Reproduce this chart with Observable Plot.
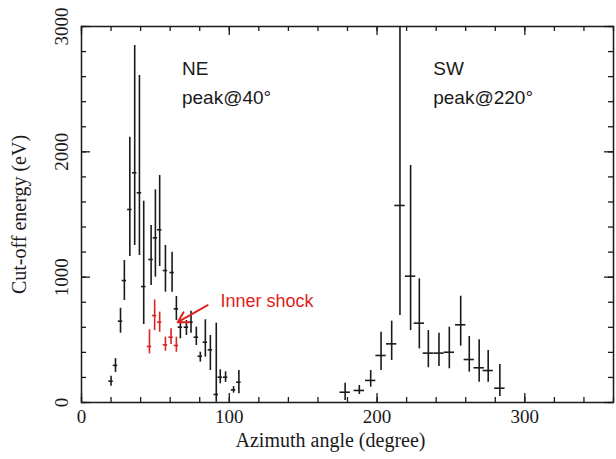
<!DOCTYPE html>
<html>
<head>
<meta charset="utf-8">
<script src="https://cdn.jsdelivr.net/npm/d3@7"></script>
<script src="https://cdn.jsdelivr.net/npm/@observablehq/plot@0.6"></script>
<style>
  html, body { margin: 0; padding: 0; background: #fff; }
  #chart svg { display: block; }
</style>
</head>
<body>
<div id="chart"></div>
<script>
// ---- data ----
const neAngle = [20, 23, 26.4, 29, 32.7, 36, 39.2, 42.1, 47.1, 50, 52.9, 56.8, 61.3, 64.2, 66.9, 71, 74.1, 77.7, 80.4, 83.8, 87.2, 91.2, 93.9, 97.5, 102.9, 106.5];
const neValue = [170, 296, 649, 973, 1540, 1833, 1673, 925, 1141, 1314, 1378, 1053, 1037, 747, 601, 601, 641, 521, 369, 481, 420, 64, 202, 202, 101, 162];
const neLow   = [130, 240, 553, 814, 1165, 1253, 1173, 622, 933, 1000, 1085, 880, 880, 654, 508, 535, 553, 455, 322, 362, 255, 2, 149, 160, 75, 69];
const neHigh  = [210, 350, 752, 1133, 2117, 2848, 2609, 1606, 1412, 1697, 1811, 1253, 1199, 846, 654, 654, 729, 601, 401, 660, 535, 633, 261, 245, 127, 255];

const innerAngle = [46, 49.5, 52.9, 56.8, 60.6, 64.2];
const innerValue = [447, 694, 641, 460, 521, 455];
const innerLow   = [388, 574, 561, 409, 463, 401];
const innerHigh  = [580, 819, 721, 521, 588, 521];

const swAngle = [178.4, 188, 195.7, 202.7, 209.9, 215.5, 222.7, 228.6, 234.7, 241.9, 248.9, 256.6, 262.4, 269.1, 275.2, 283.1];
const swValue = [82, 96, 176, 375, 468, 1572, 1008, 633, 394, 394, 401, 620, 343, 277, 255, 114];
const swLow   = [16, 64, 122, 255, 335, 694, 574, 428, 277, 287, 269, 449, 242, 162, 162, 48];
const swHigh  = [154, 136, 255, 561, 649, 3000, 1891, 987, 574, 553, 601, 848, 527, 500, 415, 303];

const neHalfWidth = 1.5;   // angular half-width of each NE bin (deg)
const swHalfWidth = 3.5;   // angular half-width of each SW bin (deg)

const xTickLabels = [0, 100, 200, 300];
const yTickLabels = [0, 1000, 2000, 3000];
const xMinorTicks = d3.range(0, 361, 20);
const yMinorTicks = d3.range(0, 3001, 200);

const regionLabels = [
  {angle: 68, value: 2660, text: "NE"},
  {angle: 68, value: 2430, text: "peak@40°"},
  {angle: 238, value: 2660, text: "SW"},
  {angle: 238, value: 2430, text: "peak@220°"}
];
const annotation = {text: "Inner shock", angle: 94, value: 810, fromAngle: 85.4, fromValue: 776, toAngle: 65.1, toValue: 641};

// ---- build tables ----
const mk = (a, v, lo, hi, hw) => a.map((x, i) => ({x, v: v[i], lo: lo[i], hi: hi[i], hw}));
const ne = mk(neAngle, neValue, neLow, neHigh, neHalfWidth);
const sw = mk(swAngle, swValue, swLow, swHigh, swHalfWidth);
const inner = mk(innerAngle, innerValue, innerLow, innerHigh, neHalfWidth);
const black = ne.concat(sw);

const ink = "#1a1a1a";
const red = "#dd2222";
const serif = "'Liberation Serif', 'Times New Roman', serif";
const sans = "'Liberation Sans', Arial, Helvetica, sans-serif";

function errMarks(data, color) {
  return [
    Plot.ruleX(data, {x: "x", y1: "lo", y2: "hi", stroke: color, strokeWidth: 1.6}),
    Plot.ruleY(data, {y: "v", x1: d => d.x - d.hw, x2: d => d.x + d.hw, stroke: color, strokeWidth: 1.6})
  ];
}

const chart = Plot.plot({
  width: 616,
  height: 459,
  marginLeft: 81,
  marginRight: 3,
  marginTop: 26,
  marginBottom: 57,
  x: {domain: [0, 360], axis: null},
  y: {domain: [0, 3000], axis: null},
  style: {fontFamily: serif, background: "#fff", color: ink},
  marks: [
    ...errMarks(black, ink),
    ...errMarks(inner, red),
    // inward minor/major ticks on all four sides
    Plot.ruleX(xMinorTicks, {x: d => d, y1: 0, y2: 0, insetTop: -5, stroke: ink, strokeWidth: 1.3}),
    Plot.ruleX(xTickLabels, {x: d => d, y1: 0, y2: 0, insetTop: -9, stroke: ink, strokeWidth: 1.3}),
    Plot.ruleX(xMinorTicks, {x: d => d, y1: 3000, y2: 3000, insetBottom: -5, stroke: ink, strokeWidth: 1.3}),
    Plot.ruleX(xTickLabels, {x: d => d, y1: 3000, y2: 3000, insetBottom: -9, stroke: ink, strokeWidth: 1.3}),
    Plot.ruleY(yMinorTicks, {y: d => d, x1: 0, x2: 0, insetRight: -5, stroke: ink, strokeWidth: 1.3}),
    Plot.ruleY(yTickLabels, {y: d => d, x1: 0, x2: 0, insetRight: -9, stroke: ink, strokeWidth: 1.3}),
    Plot.ruleY(yMinorTicks, {y: d => d, x1: 360, x2: 360, insetLeft: -5, stroke: ink, strokeWidth: 1.3}),
    Plot.ruleY(yTickLabels, {y: d => d, x1: 360, x2: 360, insetLeft: -9, stroke: ink, strokeWidth: 1.3}),
    Plot.frame({stroke: ink, strokeWidth: 1.5}),
    // tick labels
    Plot.text(xTickLabels, {x: d => d, y: 0, text: d => String(d), dy: 14, fontSize: 19, fill: ink, fontFamily: serif}),
    Plot.text(yTickLabels, {x: 0, y: d => d, text: d => String(d), rotate: -90, dx: -20, fontSize: 19, fill: ink, fontFamily: serif}),
    // axis titles
    Plot.text(["Azimuth angle (degree)"], {frameAnchor: "bottom", lineAnchor: "middle", textAnchor: "middle", dy: 38, dx: -17, fontSize: 20, fill: ink, fontFamily: serif}),
    Plot.text(["Cut-off energy (eV)"], {frameAnchor: "left", lineAnchor: "middle", textAnchor: "middle", rotate: -90, dx: -62, fontSize: 20, fill: ink, fontFamily: serif}),
    // region labels
    Plot.text(regionLabels, {x: "angle", y: "value", text: "text", textAnchor: "start", fontSize: 19, fill: ink, fontFamily: sans}),
    // annotation
    Plot.arrow([annotation], {x1: "fromAngle", y1: "fromValue", x2: "toAngle", y2: "toValue", stroke: red, strokeWidth: 2, headLength: 10}),
    Plot.text([annotation], {x: "angle", y: "value", text: "text", textAnchor: "start", fontSize: 18, fill: red, fontFamily: sans})
  ]
});

document.getElementById("chart").appendChild(chart);
</script>
</body>
</html>
